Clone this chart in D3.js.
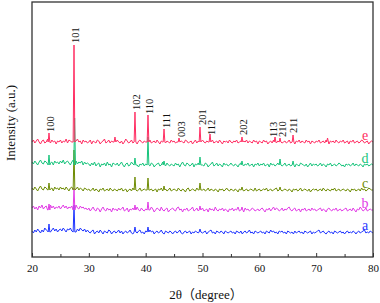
<!DOCTYPE html>
<html>
<head>
<meta charset="utf-8">
<script src="https://cdn.jsdelivr.net/npm/d3@7"></script>
<style>
  body { margin: 0; background: #fff; }
  text { font-family: "Liberation Serif", "Times New Roman", "Noto Sans CJK SC", serif; }
</style>
</head>
<body>
<svg id="chart" width="380" height="303"></svg>
<script>
"use strict";

var gridStart = 20, gridStep = 0.25;
var seriesNames = ["a", "b", "c", "d", "e"];
var seriesColors = ["#1f35ff", "#e23ce6", "#6f8c05", "#18c47c", "#ff2d62"];

var aNoise = [
  1,-1,2,0,3,1,-1,2,0,4,2,1,3,0,2,4,1,3,0,2,
  3,1,4,2,0,3,2,4,1,3,2,0,3,1,4,2,1,3,0,2,
  0,-1,1,2,-2,0,1,-1,2,0,-2,1,0,-1,2,1,-2,0,1,-1,
  0,2,-1,1,-2,0,1,-1,0,2,-1,-2,1,0,-1,1,2,-1,0,-2,
  1,0,-1,2,0,1,-2,0,1,-1,0,2,-1,-2,1,0,-1,1,0,-2,
  0,1,-1,0,2,-1,-2,0,1,-1,0,1,-2,0,-1,1,0,-1,2,0,
  -1,0,1,-2,0,1,2,-1,0,-2,1,0,-1,1,0,-2,1,0,-1,0,
  1,-1,0,-2,1,0,-1,1,-2,0,1,-1,0,2,-1,0,-2,1,0,-1,
  0,1,-1,0,-2,1,0,-1,2,0,1,-1,0,-2,1,0,1,-1,0,-2,
  1,0,-1,0,-2,1,-1,0,1,-1,0,-2,1,0,-1,0,1,-2,0,-1,
  0,1,2,-1,0,1,-1,-2,0,1,-1,0,-2,1,0,-1,0,1,-1,0,
  -2,0,1,-1,0,-1,1,0,-2,0,1,-1,0,1,2,-1,0,-1,1,0,
  -1];
var bNoise = [
  2,4,1,3,0,4,2,5,1,3,4,0,3,5,2,4,1,3,2,4,
  1,3,5,2,4,1,3,2,4,0,3,5,2,1,4,2,3,1,2,0,
  2,-1,1,3,0,-1,2,1,-2,1,3,0,-1,2,0,1,-2,2,0,1,
  -1,2,0,1,3,-1,0,2,-2,1,0,2,-1,1,3,0,-1,2,0,-1,
  1,2,-1,0,3,1,-2,0,2,1,-1,3,0,-1,1,2,-2,0,1,2,
  0,-1,2,3,0,1,-2,1,0,2,-1,0,1,3,-1,0,2,-1,1,0,
  2,-1,0,1,-2,2,0,1,-1,3,0,-1,1,0,2,-1,1,0,-2,1,
  0,2,-1,1,0,3,-1,0,1,-2,2,0,1,-1,0,2,1,-1,0,1,
  -1,1,2,0,-2,1,0,2,-1,1,3,0,2,1,-1,0,2,-1,1,0,
  2,3,0,-1,1,2,-1,0,1,-2,1,0,2,-1,0,1,-1,2,0,1,
  -1,0,1,2,-1,1,0,-2,1,2,0,-1,1,0,2,-1,0,1,-1,0,
  1,2,-1,0,1,-1,2,0,-2,1,0,3,1,-1,0,2,-1,0,1,0,
  0];
var cNoise = [
  2,0,3,1,-1,2,4,1,0,3,2,0,3,1,2,-1,3,1,2,0,
  3,1,2,0,3,1,-1,2,3,0,2,1,3,0,2,1,-1,2,1,0,
  1,-1,0,2,-1,1,0,-2,1,0,2,-1,0,1,-1,2,0,-1,1,0,
  -1,1,0,2,-1,0,1,-2,0,1,-1,2,0,1,-1,0,2,-1,0,1,
  0,-1,2,0,1,-1,0,1,-2,1,0,2,-1,0,1,-1,0,2,-1,0,
  1,0,-1,2,0,-1,1,0,-2,1,2,-1,0,1,0,-1,2,0,-1,1,
  0,1,-1,0,2,-1,1,0,-1,1,0,-2,1,0,1,-1,0,2,0,-1,
  1,0,-1,1,0,-2,1,0,2,-1,0,1,-1,0,1,0,-1,2,-1,0,
  1,-1,0,1,0,2,-1,0,1,-1,0,1,2,-1,0,1,-1,0,1,0,
  -1,1,0,-2,1,0,1,-1,0,2,-1,0,1,0,-1,1,-2,0,1,0,
  1,-1,0,1,-1,2,0,-1,1,0,-1,1,0,2,-1,0,1,-1,0,1,
  0,-1,1,0,-2,1,0,1,-1,0,1,-1,2,0,1,-1,0,2,1,0,
  0];
var dNoise = [
  3,1,4,2,0,3,5,2,1,4,3,1,5,2,3,0,4,2,3,1,
  4,2,5,1,3,4,2,0,3,5,2,4,1,3,2,4,0,3,1,2,
  1,-1,2,0,3,-1,1,2,-2,1,0,2,-1,3,0,1,-2,2,1,0,
  2,-1,1,3,0,-2,1,2,-1,0,3,1,-1,2,0,-2,1,0,2,-1,
  1,3,0,-1,2,1,-2,0,1,2,-1,0,3,1,-1,2,0,-1,1,0,
  -1,2,0,1,-2,1,3,0,-1,2,1,-1,0,2,-2,1,0,2,-1,1,
  0,-1,2,1,-2,0,1,3,-1,0,2,-1,1,0,-2,2,0,1,-1,0,
  2,0,-1,1,0,-2,1,2,0,-1,1,0,2,-1,0,1,-2,1,0,2,
  -1,1,0,2,-1,0,1,-2,2,0,1,-1,0,2,3,1,-1,0,2,-1,
  0,1,-1,2,0,-2,1,0,-1,2,1,0,-1,1,-2,0,2,-1,1,0,
  1,-1,0,2,-1,1,0,-2,1,0,2,-1,0,1,-1,0,2,1,-1,0,
  -2,1,0,1,-1,0,2,-1,1,0,-1,1,0,-2,1,0,1,-1,0,1,
  0];
var eNoise = [
  0,2,-1,1,3,0,-2,1,2,-1,0,3,1,-1,2,0,1,-2,1,0,
  2,-1,1,0,3,-1,2,1,0,2,-1,1,3,0,1,-2,2,0,1,-1,
  0,2,-2,1,0,-1,2,1,-2,0,1,3,-1,0,2,-1,1,0,-2,1,
  2,0,-1,1,-2,0,3,1,-1,0,2,-1,1,0,-2,1,2,0,-1,1,
  0,-2,1,2,-1,0,1,-1,2,0,-2,1,0,2,-1,1,0,-1,2,0,
  1,-1,0,2,-2,1,0,-1,2,1,-1,0,1,-2,0,2,-1,1,0,-1,
  2,0,-1,1,0,-2,1,2,-1,0,1,-1,2,0,-2,1,0,1,-1,2,
  0,-1,1,0,2,-1,0,1,-2,1,0,2,-1,1,0,-1,2,0,1,-2,
  1,0,-1,2,0,1,-2,0,1,-1,2,0,-1,1,0,2,-1,0,1,-1,
  0,2,-1,1,0,-2,1,0,2,-1,1,0,-1,2,0,1,-2,1,0,-1,
  1,0,2,-1,0,1,-1,2,0,-2,1,0,1,-1,2,0,-1,1,0,2,
  -1,0,1,-2,1,0,2,-1,0,1,-1,0,2,1,-1,0,1,-2,0,1,
  0];

// Peaks: [2theta, height above baseline]
var aPeaks = [[22.99,8],[27.39,27],[38.12,5],[40.41,5],[49.56,3]];
var bPeaks = [[22.99,6],[27.39,22],[38.12,5],[40.41,8],[49.56,4],[56.95,3]];
var cPeaks = [[22.99,7],[27.39,40],[38.12,13],[40.41,12],[43.23,4],[49.56,7],[56.95,3],[63.64,3]];
var dPeaks = [[22.99,10],[27.5,47],[38.12,7],[40.41,28],[43.23,4],[49.56,8],[56.95,4],[63.64,6],[65.93,4]];
var ePeaks = [[22.99,9],[27.39,97],[34.6,5],[38.12,30],[40.41,27],[43.23,13],[45.87,4],[49.56,15],
  [51.32,8],[56.95,5],[62.76,5],[63.64,4],[65.93,7],[72.0,4]];

// Baseline offsets of the stacked traces (intensity units)
var offsets = [25, 47, 67, 92, 115];

// Peak index labels on trace e: name, 2theta, level of text start
var hklNames = ["100","101","102","110","111","003","201","112","202","113","210","211"];
var hklTheta = [23.2, 27.6, 38.3, 40.6, 43.6, 46.2, 49.9, 51.5, 57.1, 62.4, 64.0, 65.9];
var hklLevel = [125, 214, 147, 143, 129, 120, 132, 122, 122, 120, 120, 124];

var xMajor = [20, 30, 40, 50, 60, 70, 80];
var xMinor = [25, 35, 45, 55, 65, 75];

window.onload = function() {
  var svg = d3.select("#chart");
  var left = 32, right = 373, top = 2, bottom = 257;

  var x = d3.scaleLinear().domain([20, 80]).range([left, right]);
  var y = d3.scaleLinear().domain([0, 255]).range([bottom, top]);

  var noises = [aNoise, bNoise, cNoise, dNoise, eNoise];
  var peaks = [aPeaks, bPeaks, cPeaks, dPeaks, ePeaks];

  var line = d3.line().x(function(d) { return x(d[0]); }).y(function(d) { return y(d[1]); });

  // Traces
  for (let i = 0; i < 5; i++) {
    var pts = [];
    noises[i].forEach(function(v, k) {
      var t = gridStart + k * gridStep;
      var near = peaks[i].some(function(p) { return Math.abs(p[0] - t) < 0.2; });
      if (!near) pts.push([t, offsets[i] + v]);
    });
    peaks[i].forEach(function(p) {
      pts.push([p[0] - 0.15, offsets[i]]);
      pts.push([p[0], offsets[i] + p[1]]);
      pts.push([p[0] + 0.15, offsets[i]]);
    });
    pts.sort(function(a, b) { return a[0] - b[0]; });

    svg.append("path")
      .attr("d", line(pts))
      .attr("fill", "none")
      .attr("stroke", seriesColors[i])
      .attr("stroke-width", 1)
      .attr("stroke-linejoin", "round");

    svg.append("text")
      .attr("x", x(78.6))
      .attr("y", y(offsets[i]) - 2)
      .attr("text-anchor", "middle")
      .attr("font-size", 14)
      .attr("fill", seriesColors[i])
      .text(seriesNames[i]);
  }

  // hkl labels
  hklNames.forEach(function(name, i) {
    svg.append("text")
      .attr("transform", "translate(" + x(hklTheta[i]) + "," + y(hklLevel[i]) + ") rotate(-90)")
      .attr("dy", "0.35em")
      .attr("font-size", 10.5)
      .attr("fill", "#111")
      .text(name);
  });

  // Frame
  svg.append("rect")
    .attr("x", left).attr("y", top)
    .attr("width", right - left).attr("height", bottom - top)
    .attr("fill", "none")
    .attr("stroke", "#333")
    .attr("stroke-width", 1.3);

  // X axis, inward ticks
  var xAxis = svg.append("g")
    .attr("transform", "translate(0," + bottom + ")")
    .call(d3.axisBottom(x).tickValues(xMajor).tickSizeInner(-4).tickSizeOuter(0).tickPadding(7));
  xAxis.select(".domain").remove();
  xAxis.selectAll("text").attr("font-size", 11).attr("font-family", "Liberation Serif, serif").attr("fill", "#111");
  xAxis.selectAll("line").attr("stroke", "#333");

  var minor = svg.append("g")
    .attr("transform", "translate(0," + bottom + ")")
    .call(d3.axisBottom(x).tickValues(xMinor).tickSizeInner(-3).tickSizeOuter(0).tickFormat(""));
  minor.select(".domain").remove();
  minor.selectAll("line").attr("stroke", "#333");

  // Axis titles
  svg.append("text")
    .attr("x", 206).attr("y", 299)
    .attr("text-anchor", "middle")
    .attr("font-size", 13)
    .attr("fill", "#111")
    .text("2θ（degree）");

  svg.append("text")
    .attr("transform", "translate(15,123) rotate(-90)")
    .attr("text-anchor", "middle")
    .attr("font-size", 13)
    .attr("fill", "#111")
    .text("Intensity (a.u.)");
};
</script>
</body>
</html>
